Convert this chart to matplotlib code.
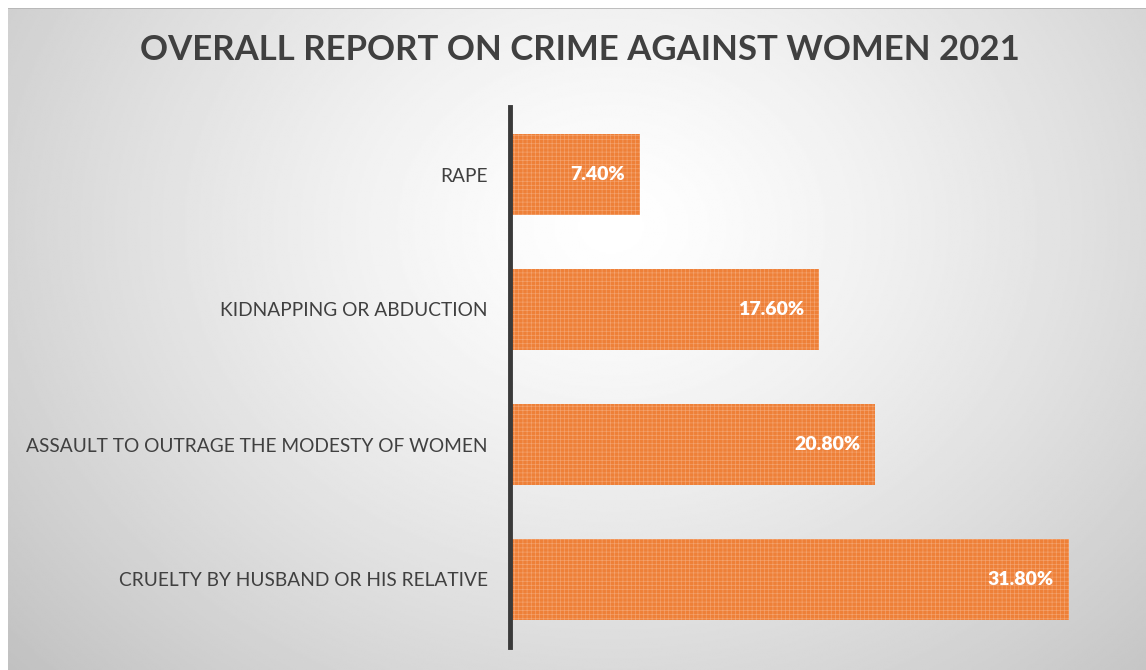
import numpy as np
import matplotlib
matplotlib.use("Agg")
import matplotlib.pyplot as plt

categories = [
    "CRUELTY BY HUSBAND OR HIS RELATIVE",
    "ASSAULT TO OUTRAGE THE MODESTY OF WOMEN",
    "KIDNAPPING OR ABDUCTION",
    "RAPE",
]
shares = [31.8, 20.8, 17.6, 7.4]
title = "OVERALL REPORT ON CRIME AGAINST WOMEN 2021"

plt.rcParams["font.family"] = ["Lato", "DejaVu Sans"]
plt.rcParams["hatch.linewidth"] = 0.45

W, H = 1146, 670
fig = plt.figure(figsize=(W / 100, H / 100), dpi=100)
fig.patch.set_facecolor("white")

# radial grey background behind the chart area
bg = fig.add_axes([8 / W, 0, 1 - 8 / W, 1 - 8 / H])
gx, gy = np.meshgrid(np.linspace(0, 1, 600), np.linspace(0, 1, 400))
r = np.sqrt(((gx - 0.53) / 0.75) ** 2 + ((gy - 0.33) / 1.05) ** 2)
shade = np.clip(1.0 - 0.26 * r ** 1.3, 0, 1)
bg.imshow(shade, cmap="gray", vmin=0, vmax=1, aspect="auto",
          extent=(0, 1, 0, 1), origin="upper", interpolation="bilinear")
bg.axhline(1, color="#b4b4b4", lw=1.2)
bg.set_axis_off()

ax = fig.add_axes([510 / W, 23 / H, 615 / W, 540 / H])
ax.patch.set_alpha(0)
y = np.arange(len(categories))
bars = ax.barh(y, shares, height=0.6, color="#EE8038",
               hatch="++++", linewidth=0)
for b in bars:
    b.set_edgecolor("#F4A470")

for yi, v in zip(y, shares):
    ax.text(v - 0.85, yi, f"{v:.2f}%", ha="right", va="center",
            color="white", fontsize=14, fontweight="heavy")

ax.set_xlim(0, 35)
ax.set_ylim(-0.5, len(categories) - 0.5)
ax.set_yticks(y)
ax.set_yticklabels(categories, fontsize=13.8, color="#404040")
ax.tick_params(axis="y", length=0, pad=16)
ax.set_xticks([])
for s in ["top", "right", "bottom"]:
    ax.spines[s].set_visible(False)
ax.spines["left"].set_color("#3a3a3a")
ax.spines["left"].set_linewidth(3.5)

fig.text(580 / W, 1 - 50 / H, title, ha="center", va="center",
         fontsize=25, fontweight="bold", color="#404040")

fig.savefig("out.png", dpi=100)
